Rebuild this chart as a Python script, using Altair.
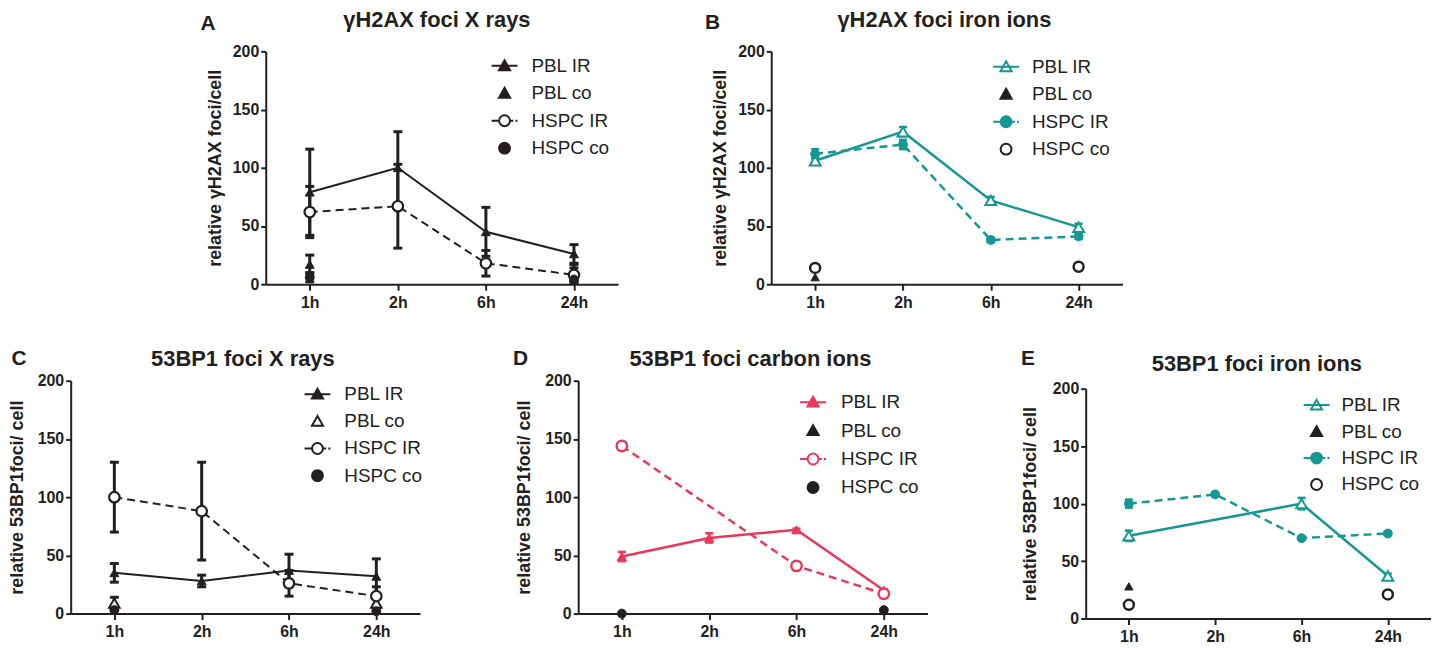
import altair as alt
import pandas as pd

FONT = "Liberation Sans"
INK = "#231f20"
TEAL = "#179696"
RED = "#e8385c"
WHITE = "#ffffff"

TIMES = ["1h", "2h", "6h", "24h"]
SERIES = ["PBL IR", "PBL co", "HSPC IR", "HSPC co"]

# ---- Panel A: gammaH2AX foci, X rays ----
A_PBL_IR = [79, 100, 45, 26]
A_PBL_IR_ERR = [37, 31, 21, 8]
A_PBL_CO = [17, None, None, 12]
A_PBL_CO_ERR = [8, None, None, 5]
A_HSPC_IR = [62, 67, 18, 8]
A_HSPC_IR_ERR = [22, 36, 11, 6]
A_HSPC_CO = [6, None, None, 4]
A_HSPC_CO_ERR = [4, None, None, 3]

# ---- Panel B: gammaH2AX foci, iron ions ----
B_PBL_IR = [106, 131, 72, 49]
B_PBL_IR_ERR = [3, 4, 3, 3]
B_PBL_CO = [6, None, None, 15]
B_PBL_CO_ERR = [0, None, None, 0]
B_HSPC_IR = [112, 120, 38, 41]
B_HSPC_IR_ERR = [4, 4, 2, 2]
B_HSPC_CO = [14, None, None, 15]
B_HSPC_CO_ERR = [0, None, None, 0]

# ---- Panel C: 53BP1 foci, X rays ----
C_PBL_IR = [35, 28, 37, 32]
C_PBL_IR_ERR = [8, 5, 14, 15]
C_PBL_CO = [9, None, None, 9]
C_PBL_CO_ERR = [5, None, None, 4]
C_HSPC_IR = [100, 88, 26, 15]
C_HSPC_IR_ERR = [30, 42, 11, 8]
C_HSPC_CO = [3, None, None, 2]
C_HSPC_CO_ERR = [0, None, None, 0]

# ---- Panel D: 53BP1 foci, carbon ions ----
D_PBL_IR = [49, 65, 72, 20]
D_PBL_IR_ERR = [4, 4, 1, 1]
D_PBL_CO = [None, None, None, None]
D_PBL_CO_ERR = [None, None, None, None]
D_HSPC_IR = [144, None, 41, 17]
D_HSPC_IR_ERR = [1, None, 1, 1]
D_HSPC_CO = [0, None, None, 3]
D_HSPC_CO_ERR = [0, None, None, 0]

# ---- Panel E: 53BP1 foci, iron ions ----
E_PBL_IR = [72, None, 100, 37]
E_PBL_IR_ERR = [4.5, None, 5, 2]
E_PBL_CO = [28, None, None, None]
E_PBL_CO_ERR = [0, None, None, None]
E_HSPC_IR = [100, 108, 70, 74]
E_HSPC_IR_ERR = [3.5, 1.5, 1.5, 1.5]
E_HSPC_CO = [12, None, None, 21]
E_HSPC_CO_ERR = [0, None, None, 0]


def make_df(series_map):
    rows = []
    for s, (vals, errs) in series_map.items():
        for i, (t, v, e) in enumerate(zip(TIMES, vals, errs)):
            if v is None:
                continue
            e = e or 0
            rows.append(dict(time=t, idx=i, series=s, v=v, err=e, lo=v - e, hi=v + e))
    return pd.DataFrame(rows)


# legend symbol paths ([-1,1] box, scaled by sqrt(symbolSize)/2)
LINE = "M-1,0L1,0"
DASH = "M-1,0L-0.45,0M0.45,0L0.68,0M0.84,0L1,0"
TRI = "M0,-0.42L0.43,0.34L-0.43,0.34Z"
CIRC = "M-0.42,0A0.42,0.42,0,1,0,0.42,0A0.42,0.42,0,1,0,-0.42,0Z"
LEG_PATHS = [LINE + TRI, TRI, DASH + CIRC, CIRC]

IND = dict(shape="independent", fill="independent", stroke="independent")


def style(shape, size, fill, stroke, sw, line=None, lw=2, ecol=None, ew=2.5, cap=9):
    return dict(shape=shape, size=size, fill=fill, stroke=stroke, sw=sw,
                line=line, lw=lw, ecol=ecol or stroke, ew=ew, cap=cap)


def panel(df, styles, leg_fill, leg_stroke, letter, letter_xy, title, title_xy,
          ytitle, tpad, w, h, leg):
    X = alt.X("time:N", sort=TIMES,
              scale=alt.Scale(type="point", domain=TIMES, padding=0.5),
              axis=alt.Axis(title=None, labelAngle=0))
    YS = alt.Scale(domain=[0, 200], nice=False, zero=True)
    YA = alt.Axis(title=ytitle, values=[0, 50, 100, 150, 200], titlePadding=tpad)

    def Y(f):
        return alt.Y(f + ":Q", scale=YS, axis=YA)

    lines, errs, pts = [], [], []
    for s in SERIES:
        d = df[df.series == s]
        if d.empty:
            continue
        st = styles[s]
        if st["line"] is not None:
            kw = dict(color=st["stroke"], strokeWidth=st["lw"], opacity=1)
            if st["line"] == "dash":
                kw["strokeDash"] = [8, 5]
            lines.append(alt.Chart(d).mark_line(**kw).encode(
                x=X, y=Y("v"), order=alt.Order("idx:Q")))
        de = d[d.err > 0]
        if not de.empty:
            errs.append(alt.Chart(de).mark_rule(color=st["ecol"], strokeWidth=st["ew"],
                                                opacity=1).encode(x=X, y=Y("lo"), y2="hi:Q"))
            for f in ["lo", "hi"]:
                errs.append(alt.Chart(de).mark_tick(color=st["ecol"], thickness=st["ew"],
                                                     size=st["cap"], opacity=1).encode(x=X, y=Y(f)))
        pts.append(alt.Chart(d).mark_point(shape=st["shape"], size=st["size"], filled=True,
                                           fill=st["fill"], stroke=st["stroke"],
                                           strokeWidth=st["sw"], opacity=1).encode(x=X, y=Y("v")))

    lx, ly, rp, lo = leg
    LEG = alt.Legend(title=None, orient="none", legendX=lx, legendY=ly, symbolSize=676,
                     symbolStrokeWidth=2, symbolOpacity=1, labelFont=FONT, labelFontSize=19,
                     labelColor=INK, labelOffset=lo, rowPadding=rp, padding=0, labelLimit=300)
    legend_layer = alt.Chart(df).transform_filter("false").mark_point(filled=True, strokeWidth=2).encode(
        shape=alt.Shape("series:N", scale=alt.Scale(domain=SERIES, range=LEG_PATHS), legend=LEG),
        fill=alt.Fill("series:N", scale=alt.Scale(domain=SERIES, range=leg_fill), legend=LEG),
        stroke=alt.Stroke("series:N", scale=alt.Scale(domain=SERIES, range=leg_stroke), legend=LEG),
    )

    letter_layer = alt.Chart(pd.DataFrame({"t": [letter]})).mark_text(
        font=FONT, fontSize=21, fontWeight="bold", color=INK, align="center", baseline="middle"
    ).encode(text="t:N", x=alt.value(letter_xy[0]), y=alt.value(letter_xy[1]))
    title_layer = alt.Chart(pd.DataFrame({"t": [title]})).mark_text(
        font=FONT, fontSize=22, fontWeight="bold", color=INK, align="center", baseline="middle"
    ).encode(text="t:N", x=alt.value(title_xy[0]), y=alt.value(title_xy[1]))

    return alt.layer(*lines, *errs, *pts, legend_layer, letter_layer, title_layer).properties(
        width=w, height=h)


# ---------- panels ----------
dfA = make_df({"PBL IR": (A_PBL_IR, A_PBL_IR_ERR), "PBL co": (A_PBL_CO, A_PBL_CO_ERR),
               "HSPC IR": (A_HSPC_IR, A_HSPC_IR_ERR), "HSPC co": (A_HSPC_CO, A_HSPC_CO_ERR)})
stA = {
    "PBL IR": style("triangle-up", 80, INK, INK, 1, line="solid", lw=2, ew=3),
    "PBL co": style("triangle-up", 80, INK, INK, 1, ew=3),
    "HSPC IR": style("circle", 110, WHITE, INK, 2.2, line="dash", lw=2, ew=3),
    "HSPC co": style("circle", 80, INK, INK, 1, ew=3),
}
panelA = panel(dfA, stA, [INK, INK, WHITE, INK], [INK] * 4, "A", (-58, -27),
               "γH2AX foci X rays", (172, -31), "relative γH2AX foci/cell", 8, 354, 234,
               (226, 0.5, 3.6, 13))

dfB = make_df({"PBL IR": (B_PBL_IR, B_PBL_IR_ERR), "PBL co": (B_PBL_CO, B_PBL_CO_ERR),
               "HSPC IR": (B_HSPC_IR, B_HSPC_IR_ERR), "HSPC co": (B_HSPC_CO, B_HSPC_CO_ERR)})
stB = {
    "PBL IR": style("triangle-up", 120, WHITE, TEAL, 2, line="solid", lw=2.5, cap=8),
    "PBL co": style("triangle-up", 70, INK, INK, 1),
    "HSPC IR": style("circle", 80, TEAL, TEAL, 1, line="dash", lw=2.5, cap=8),
    "HSPC co": style("circle", 100, WHITE, INK, 2.5),
}
panelB = panel(dfB, stB, [WHITE, INK, TEAL, WHITE], [TEAL, INK, TEAL, INK], "B", (-59, -28),
               "γH2AX foci iron ions", (174, -31), "relative γH2AX foci/cell", 8, 353, 234,
               (222, 1.5, 3.6, 12))

dfC = make_df({"PBL IR": (C_PBL_IR, C_PBL_IR_ERR), "PBL co": (C_PBL_CO, C_PBL_CO_ERR),
               "HSPC IR": (C_HSPC_IR, C_HSPC_IR_ERR), "HSPC co": (C_HSPC_CO, C_HSPC_CO_ERR)})
stC = {
    "PBL IR": style("triangle-up", 80, INK, INK, 1, line="solid", lw=2, ew=3),
    "PBL co": style("triangle-up", 110, WHITE, INK, 2, ew=3),
    "HSPC IR": style("circle", 110, WHITE, INK, 2.2, line="dash", lw=2, ew=3),
    "HSPC co": style("circle", 80, INK, INK, 1, ew=3),
}
panelC = panel(dfC, stC, [INK, WHITE, WHITE, INK], [INK] * 4, "C", (-52, -22),
               "53BP1 foci X rays", (173, -22), "relative 53BP1foci/ cell", 11, 351, 234,
               (234, -0.5, 3.3, 13))

dfD = make_df({"PBL IR": (D_PBL_IR, D_PBL_IR_ERR), "PBL co": (D_PBL_CO, D_PBL_CO_ERR),
               "HSPC IR": (D_HSPC_IR, D_HSPC_IR_ERR), "HSPC co": (D_HSPC_CO, D_HSPC_CO_ERR)})
stD = {
    "PBL IR": style("triangle-up", 90, RED, RED, 1, line="solid", lw=2.5, cap=8),
    "PBL co": style("triangle-up", 70, INK, INK, 1),
    "HSPC IR": style("circle", 110, WHITE, RED, 2.5, line="dash", lw=2.5, cap=8),
    "HSPC co": style("circle", 80, INK, INK, 1),
}
panelD = panel(dfD, stD, [RED, INK, WHITE, INK], [RED, INK, RED, INK], "D", (-58, -22),
               "53BP1 foci carbon ions", (173, -22), "relative 53BP1foci/ cell", 11, 351, 234,
               (222, 7.5, 4.6, 14))

dfE = make_df({"PBL IR": (E_PBL_IR, E_PBL_IR_ERR), "PBL co": (E_PBL_CO, E_PBL_CO_ERR),
               "HSPC IR": (E_HSPC_IR, E_HSPC_IR_ERR), "HSPC co": (E_HSPC_CO, E_HSPC_CO_ERR)})
stE = {
    "PBL IR": style("triangle-up", 120, WHITE, TEAL, 2, line="solid", lw=2.5, cap=8),
    "PBL co": style("triangle-up", 70, INK, INK, 1),
    "HSPC IR": style("circle", 80, TEAL, TEAL, 1, line="dash", lw=2.5, cap=8),
    "HSPC co": style("circle", 100, WHITE, INK, 2.5),
}
panelE = panel(dfE, stE, [WHITE, INK, TEAL, WHITE], [TEAL, INK, TEAL, INK], "E", (-58, -30),
               "53BP1 foci iron ions", (172, -25), "relative 53BP1foci/ cell", 13, 347, 231,
               (218, 2.5, 2.6, 11))


def spacer(w, h):
    return alt.Chart(pd.DataFrame({"z": [0]})).mark_point(opacity=0).properties(width=w, height=h)


row1 = alt.hconcat(spacer(42, 20), panelA, panelB, spacing=154, bounds="flush") \
    .resolve_scale(**IND).resolve_legend(**IND)
colE = alt.vconcat(spacer(20, 8), panelE, spacing=0, bounds="flush") \
    .resolve_scale(**IND).resolve_legend(**IND)
row2 = alt.hconcat(panelC, panelD, colE, spacing=159, bounds="flush") \
    .resolve_scale(**IND).resolve_legend(**IND)

chart = alt.vconcat(row1, row2, spacing=331, bounds="flush").resolve_scale(**IND).resolve_legend(**IND).properties(
    padding=0, background="white"
).configure_view(stroke=None).configure_axis(
    grid=False, domainColor=INK, tickColor=INK, labelColor=INK, titleColor=INK,
    domainWidth=2, tickWidth=2, labelFont=FONT, titleFont=FONT,
    labelFontWeight="bold", titleFontWeight="bold", labelFontSize=16, titleFontSize=18,
).configure_axisX(tickSize=6, labelPadding=4).configure_axisY(tickSize=5, labelPadding=2)

chart.save("out.html", embed_options={"renderer": "svg", "actions": False})
